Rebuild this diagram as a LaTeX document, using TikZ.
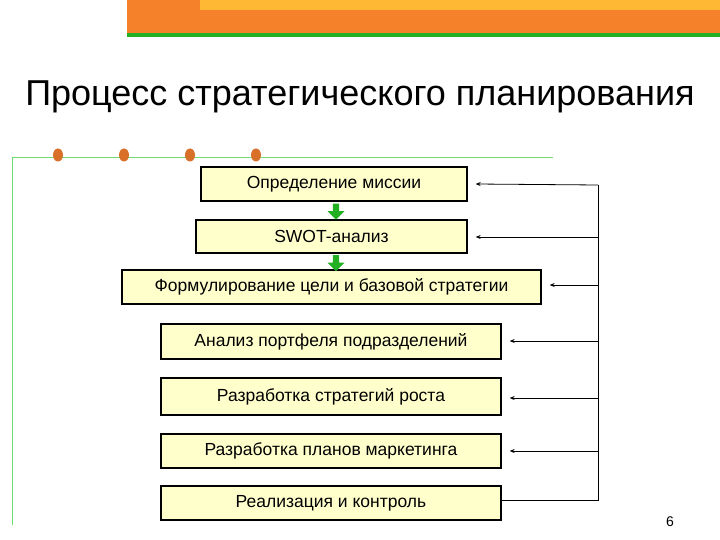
\documentclass[tikz,border=0pt]{standalone}
\usepackage{fontspec}
\setmainfont{Liberation Sans}
\usetikzlibrary{arrows.meta,shapes.arrows,shapes.geometric}
\definecolor{boxfill}{HTML}{FFFFCC}
\definecolor{orng}{HTML}{F5822A}
\definecolor{grn}{HTML}{22B022}
\definecolor{dotc}{HTML}{D9702A}
\tikzset{
  stage/.style={draw=black,line width=1.3pt,fill=boxfill,font=\fontsize{17.5}{20}\selectfont,inner sep=0pt},
  fb/.style={line width=0.8pt,-{Stealth[length=5pt,width=4pt]}},
  garrow/.style={single arrow,draw=none,fill=grn,shape border rotate=270,minimum height=16pt,minimum width=17pt,single arrow head extend=2pt,inner sep=1pt},
  dot/.style={ellipse,fill=dotc,minimum width=10pt,minimum height=13pt,inner sep=0pt}
}
\begin{document}
\begin{tikzpicture}[x=1pt,y=-1pt]
\useasboundingbox (0,0) rectangle (720,540);
% banner
\fill[orng] (127,0) rectangle (720,33);
\fill[orange!70!yellow!80] (200,0) rectangle (720,10);
\fill[grn] (127,33) rectangle (720,37);
% title
\node[font=\fontsize{36}{40}\selectfont] (title) at (360,97) {Процесс стратегического планирования};
% frame lines
\draw[green!60!gray!70,line width=0.8pt] (12,525) -- (12,157) -- (553,157);
\foreach \x [count=\i] in {58,124,190,256} \node[dot] (d\i) at (\x,155) {};
% boxes
\node[stage,minimum width=266pt,minimum height=34pt] (b1) at (334,184) {Определение миссии};
\node[stage,minimum width=271pt,minimum height=33pt] (b2) at (331.5,236.5) {SWOT-анализ};
\node[stage,minimum width=419pt,minimum height=34pt] (b3) at (331.5,287) {Формулирование цели и базовой стратегии};
\node[stage,minimum width=340pt,minimum height=35pt] (b4) at (331,341.5) {Анализ портфеля подразделений};
\node[stage,minimum width=340pt,minimum height=37pt] (b5) at (331,396.5) {Разработка стратегий роста};
\node[stage,minimum width=340pt,minimum height=34pt] (b6) at (331,451) {Разработка планов маркетинга};
\node[stage,minimum width=340pt,minimum height=34pt] (b7) at (331,503) {Реализация и контроль};
% green arrows
\node[garrow] (g1) at (336,210) {};
\node[garrow] (g2) at (336,261.5) {};
% feedback
\coordinate (top) at (598,185);
\coordinate (bot) at (598,500);
\draw[line width=0.8pt] (b7.east |- bot) -- (bot) -- (top);
\draw[fb] (top) -- ([xshift=8pt]b1.east);
\draw[fb] (598,237) -- ([xshift=8pt]b2.east |- 0,237);
\draw[fb] (598,285) -- ([xshift=8pt]b3.east |- 0,285);
\draw[fb] (598,341) -- ([xshift=8pt]b4.east |- 0,341);
\draw[fb] (598,398) -- ([xshift=8pt]b5.east |- 0,398);
\draw[fb] (598,451) -- ([xshift=8pt]b6.east |- 0,451);
\node[font=\fontsize{14}{16}\selectfont] (pn) at (670,522) {6};
\end{tikzpicture}
\end{document}
